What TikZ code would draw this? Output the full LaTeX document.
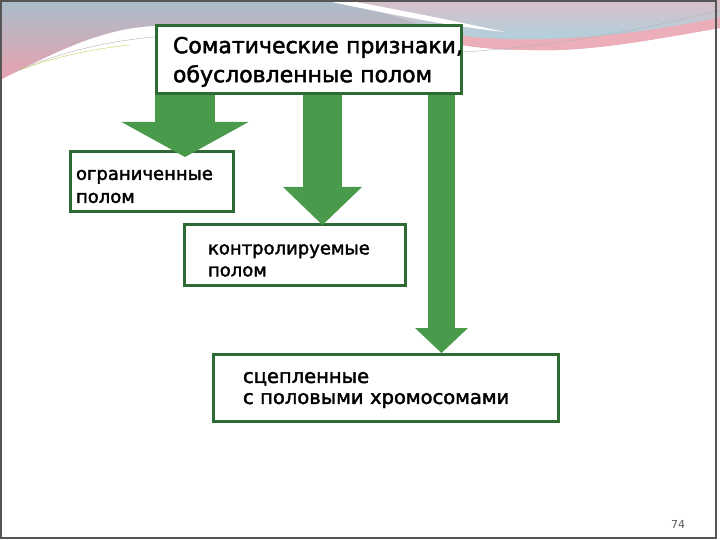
\documentclass[tikz,border=0pt]{standalone}
\usepackage{fontspec}
\setmainfont{DejaVu Sans}
\newfontfamily\slidefont{DejaVu Sans}[FakeBold=2]
\usetikzlibrary{calc,arrows.meta}
\definecolor{BoxFrame}{HTML}{2E6B34}
\definecolor{ArrowGreen}{HTML}{4A9A4C}
\definecolor{HdrBlue}{HTML}{A9BDCA}
\definecolor{HdrPink}{HTML}{E9A1AE}
\definecolor{HdrSky}{HTML}{A8D4E0}
\definecolor{HdrRose}{HTML}{D9BFC9}
\definecolor{SlideEdge}{HTML}{555555}

\begin{document}
\begin{tikzpicture}[x=1pt,y=-1pt,
  box/.style={draw=BoxFrame,line width=3pt,fill=white,anchor=north west,
    align=left,inner ysep=0pt},
  greenarrow/.style n args={3}{draw=ArrowGreen,line width=#1,
    -{Triangle[width=#2,length=#3,line width=0pt]}}]
  \useasboundingbox (0,0) rectangle (720,540);
  % --- header waves ---
  \shade[top color=HdrBlue,bottom color=HdrPink]
    (0,0) -- (720,0) -- (720,28) .. controls (650,40) and (590,52) .. (530,50)
    .. controls (500,50) and (480,48) .. (463,45) -- (155,26)
    .. controls (100,28) and (50,55) .. (0,80) -- cycle;
  \fill[HdrPink!85!white] (440,32) .. controls (520,48) and (640,35) .. (720,17)
    -- (720,28) .. controls (650,40) and (590,52) .. (530,50)
    .. controls (500,50) and (480,48) .. (440,42) -- cycle;
  \shade[top color=HdrRose,bottom color=HdrSky]
    (330,0) -- (720,0) -- (720,17) .. controls (640,35) and (520,48) .. (440,32)
    .. controls (420,24) and (380,10) .. (330,0) -- cycle;
  \fill[white] (322,0) -- (345,0) .. controls (400,10) and (450,20) .. (505,32)
    .. controls (440,25) and (380,12) .. (322,0) -- cycle;
  \draw[gray!60,thin] (15,72) .. controls (60,52) and (110,40) .. (165,36);
  \draw[gray!60,thin] (463,52) .. controls (560,46) and (650,28) .. (720,10);
  \draw[yellow!60!gray,thin] (20,70) .. controls (60,55) and (100,48) .. (130,45);
  % --- slide frame ---
  \draw[SlideEdge,line width=1.5pt] (1,1) rectangle (716,538);

  % --- boxes ---
  \node[box,text width=272pt,inner xsep=16.5pt,minimum height=68pt,
    font=\slidefont\fontsize{22}{29}\selectfont] (top) at (155,24)
    {\rule{0pt}{21pt}Соматические~признаки,\\обусловленные полом};
  \node[box,text width=152pt,inner xsep=5.5pt,minimum height=60pt,
    font=\slidefont\fontsize{18}{23}\selectfont] (ogr) at (69,150)
    {\rule{0pt}{20pt}ограниченные\\полом};
  \node[box,text width=174pt,inner xsep=23.5pt,minimum height=61pt,
    font=\slidefont\fontsize{18}{22}\selectfont] (ctl) at (183,223)
    {\rule{0pt}{21pt}контролируемые\\полом};
  \node[box,text width=286pt,inner xsep=29.5pt,minimum height=67pt,
    font=\slidefont\fontsize{19.5}{21}\selectfont] (lnk) at (212,353)
    {\rule{0pt}{15pt}сцепленные\\с половыми хромосомами};

  % --- block arrows ---
  \draw[greenarrow={60pt}{127pt}{35pt}] ([xshift=30pt]top.south west) coordinate (s1)
    -- ($(s1 |- ogr.north)+(0,7)$);
  \draw[greenarrow={39pt}{79pt}{38pt}] ([xshift=167.5pt]top.south west) coordinate (s2)
    -- ($(s2 |- ctl.north)+(0,2)$);
  \draw[greenarrow={27pt}{53pt}{25pt}] ([xshift=286.5pt]top.south west) coordinate (s3)
    -- (s3 |- lnk.north);

  % page number
  \node[font=\fontsize{11}{13}\selectfont,text=gray!70!black] (pagenum) at (678,524) {74};
\end{tikzpicture}
\end{document}
